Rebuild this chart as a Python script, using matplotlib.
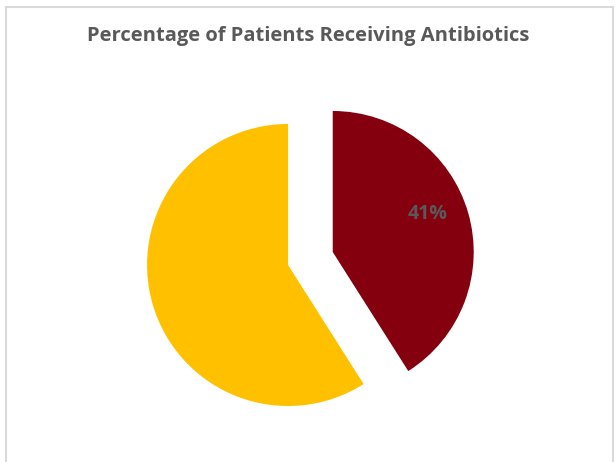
import matplotlib.pyplot as plt
from matplotlib.patches import Rectangle

labels = ['Received antibiotics', 'No antibiotics']
shares = [41, 59]
colors = ['#85000F', '#FFC000']
explode = [0.33, 0]

fig = plt.figure(figsize=(6.16, 4.62), dpi=100)
ax = fig.add_axes([0, 0, 1, 1])


def pct_label(p):
    # only the red slice carries a label in the original
    return '%d%%' % round(p) if p < 50 else ''


wedges, texts, autotexts = ax.pie(shares, colors=colors, explode=explode,
                                  startangle=90, counterclock=False,
                                  autopct=pct_label, pctdistance=0.7,
                                  textprops=dict(color='#595959', fontsize=14,
                                                 fontweight='bold', family='Open Sans'))
autotexts[0].set_va('bottom')
ax.set_xlim(-2.043, 2.326)
ax.set_ylim(-1.397, 1.879)
ax.set_aspect('auto')
ax.axis('off')

fig.text(0.5, 0.922, 'Percentage of Patients Receiving Antibiotics', ha='center', va='center',
         fontsize=14.5, fontweight='bold', color='#595959', family='Open Sans')

# light grey chart border, bottom edge falls outside the image
fig.patches.append(Rectangle((6 / 616, -0.1), 607 / 616, 1.1 - 7 / 462,
                             transform=fig.transFigure, fill=False,
                             edgecolor='#D9D9D9', linewidth=1.5))

fig.savefig('out.png')
